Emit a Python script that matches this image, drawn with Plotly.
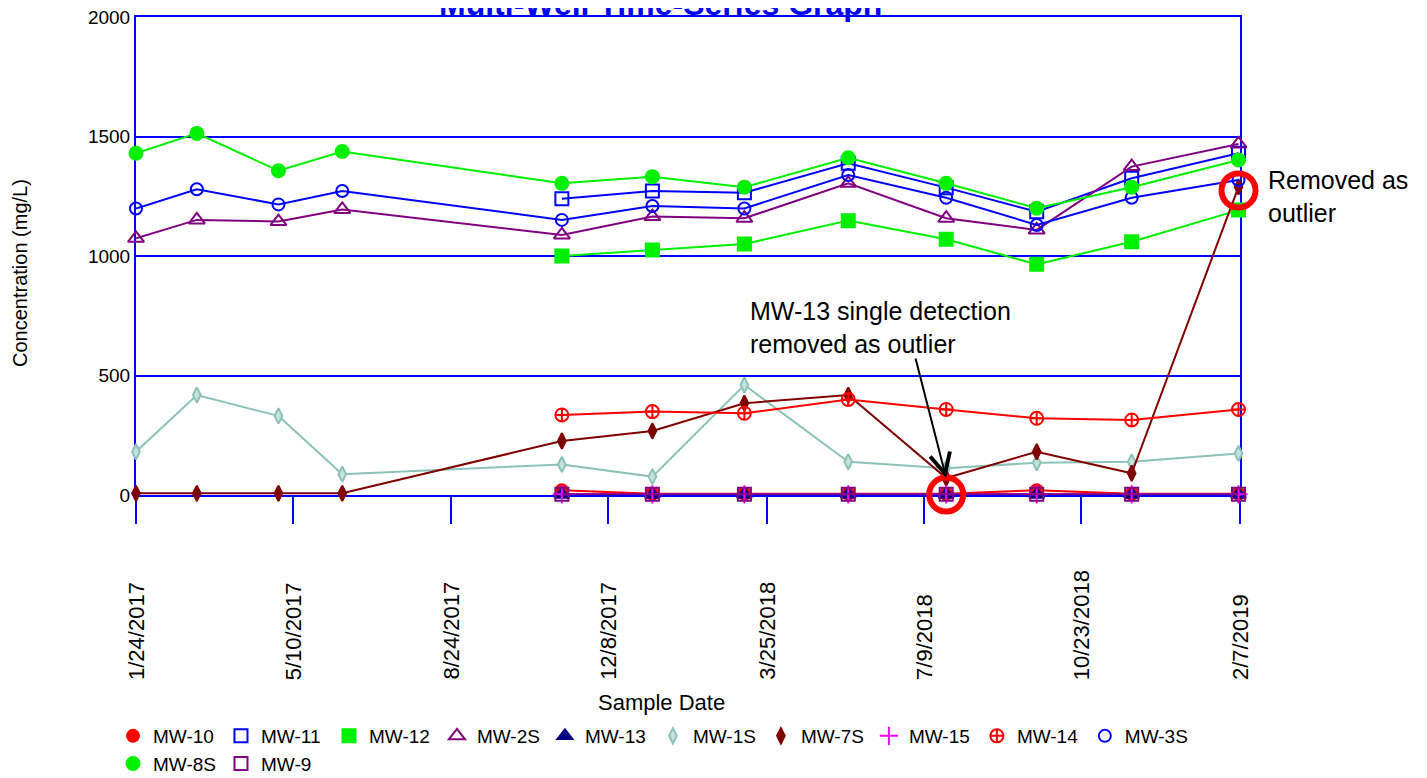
import plotly.graph_objects as go

# ---------------- data ----------------
dates = ['2017-01-24', '2017-03-06', '2017-04-30', '2017-06-12', '2017-11-07', '2018-01-07',
         '2018-03-10', '2018-05-19', '2018-07-24', '2018-09-23', '2018-11-26', '2019-02-06']

tick_dates = ['2017-01-24', '2017-05-10', '2017-08-24', '2017-12-08',
              '2018-03-25', '2018-07-09', '2018-10-23', '2019-02-07']
tick_labels = ['1/24/2017', '5/10/2017', '8/24/2017', '12/8/2017',
               '3/25/2018', '7/9/2018', '10/23/2018', '2/7/2019']

N = None
mw10 = [N, N, N, N, 20, 5, 5, 5, 5, 20, 5, 5]
mw11 = [N, N, N, N, 1240, 1272, 1265, 1388, 1286, 1185, 1325, 1430]
mw12 = [N, N, N, N, 1000, 1025, 1050, 1148, 1070, 965, 1060, 1192]
mw2s = [1074, 1151, 1144, 1195, 1088, 1165, 1158, 1304, 1158, 1109, 1374, 1469]
mw13 = [N, N, N, N, 2, 2, 2, 2, 2, 2, 2, 2]
mw1s = [181, 418, 331, 87, 128, 77, 460, 139, 112, 135, 139, 174]
mw7s = [7, 7, 7, 7, 226, 268, 384, 418, 71, 181, 91, 1289]
mw15 = [N, N, N, N, 3, 3, 3, 3, 3, 3, 3, 3]
mw14 = [N, N, N, N, 335, 349, 342, 400, 358, 321, 314, 358]
mw3s = [1199, 1279, 1216, 1272, 1151, 1209, 1199, 1339, 1244, 1130, 1244, 1318]
mw8s = [1430, 1513, 1357, 1437, 1304, 1332, 1288, 1411, 1304, 1200, 1288, 1402]
mw9 = [N, N, N, N, 3, 3, 3, 3, 3, 3, 3, 3]

y_ticks = [0, 500, 1000, 1500, 2000]

FONT = "Liberation Sans, Arial, sans-serif"
BLUE = '#0000FF'

# name, values, line color, marker symbol, marker fill, marker line color, size
series = [
    ('MW-10', mw10, '#FF0000', 'circle', '#FF0000', '#FF0000', 12),
    ('MW-11', mw11, '#0000FF', 'square-open', '#0000FF', '#0000FF', 13),
    ('MW-12', mw12, '#00F000', 'square', '#00F000', '#00F000', 13),
    ('MW-2S', mw2s, '#800080', 'triangle-up-open', '#800080', '#800080', 14),
    ('MW-13', mw13, '#000080', 'triangle-up', '#000080', '#000080', 13),
    ('MW-1S', mw1s, '#8CC2B8', 'diamond-tall', '#C6E2DC', '#8CC2B8', 11),
    ('MW-7S', mw7s, '#800000', 'diamond-tall', '#800000', '#800000', 11),
    ('MW-15', mw15, '#FF00FF', 'cross-thin-open', '#FF00FF', '#FF00FF', 13),
    ('MW-14', mw14, '#FF0000', 'circle-cross-open', '#FF0000', '#FF0000', 13),
    ('MW-3S', mw3s, '#0000FF', 'circle-open', '#0000FF', '#0000FF', 12),
    ('MW-8S', mw8s, '#00F000', 'circle', '#00F000', '#00F000', 13),
    ('MW-9', mw9, '#800080', 'square-open', '#800080', '#800080', 13),
]

fig = go.Figure()

for name, vals, lc, sym, fill, mlc, sz in series:
    fig.add_trace(go.Scatter(
        x=dates, y=vals, mode='lines+markers', name=name, showlegend=False,
        connectgaps=False, cliponaxis=False,
        line=dict(color=lc, width=2),
        marker=dict(symbol=sym, color=fill, size=sz, line=dict(color=mlc, width=2)),
    ))

# legend entries (marker only)
for name, vals, lc, sym, fill, mlc, sz in series:
    fig.add_trace(go.Scatter(
        x=[None], y=[None], mode='markers', name=name, showlegend=True,
        marker=dict(symbol=sym, color=fill, size=sz, line=dict(color=mlc, width=2)),
    ))

# outlier highlight circles
fig.add_trace(go.Scatter(
    x=[dates[8], dates[-1]], y=[mw13[8], mw7s[-1] - 15], mode='markers', showlegend=False,
    cliponaxis=False,
    marker=dict(symbol='circle-open', size=34, color='#FF0000', line=dict(color='#FF0000', width=6)),
))

# page body has an 8px margin; figure is sized/positioned to compensate
W, H = 1419, 770

def px_x(p):
    return (p - 136) / 1104.0

def px_y(p):
    return (495 - p) / 478.0

annotations = []
for d, lab in zip(tick_dates, tick_labels):
    annotations.append(dict(x=d, xref='x', y=px_y(682), yref='paper', text=lab,
                            textangle=-90, showarrow=False, xanchor='center', yanchor='bottom',
                            font=dict(family=FONT, size=22, color='black')))

annotations += [
    dict(x=px_x(660), y=px_y(24), xref='paper', yref='paper', yanchor='bottom', xanchor='center',
         text='<b>Multi-Well Time-Series Graph</b>', showarrow=False,
         font=dict(family=FONT, size=32, color=BLUE)),
    dict(x=px_x(661), y=px_y(702), xref='paper', yref='paper', xanchor='center', yanchor='middle',
         text='Sample Date', showarrow=False,
         font=dict(family=FONT, size=22, color='black')),
    dict(x=px_x(20), y=px_y(273), xref='paper', yref='paper', xanchor='center', yanchor='middle',
         text='Concentration (mg/L)',
         textangle=-90, showarrow=False, font=dict(family=FONT, size=20, color='black')),
    dict(x=px_x(748), y=px_y(327), xref='paper', yref='paper', xanchor='left', yanchor='middle',
         align='left', text='MW-13 single detection<br>removed as outlier', showarrow=False,
         font=dict(family=FONT, size=25, color='black')),
    dict(x=px_x(1266), y=px_y(196), xref='paper', yref='paper', xanchor='left', yanchor='middle',
         align='left', text='Removed as<br>outlier', showarrow=False,
         font=dict(family=FONT, size=25, color='black')),
    dict(x=dates[8], y=mw7s[8], xref='x', yref='y', text='', showarrow=True,
         arrowhead=5, arrowsize=2, arrowwidth=2, arrowcolor='black',
         ax=-31, ay=-121, standoff=0),
]

fig.update_layout(
    width=W, height=H,
    margin=dict(l=128, r=W - 128 - 1104, t=9, b=H - 9 - 478, pad=0, autoexpand=False),
    plot_bgcolor='white', paper_bgcolor='white',
    font=dict(family=FONT, size=19, color='black'),
    showlegend=True,
    legend=dict(orientation='h', xref='container', x=105 / W, xanchor='left',
                yref='container', y=(H - 709) / H, yanchor='top',
                font=dict(family=FONT, size=19, color='black'),
                bgcolor='rgba(0,0,0,0)', borderwidth=0),
    annotations=annotations,
    xaxis=dict(type='date', range=['2017-01-24', '2019-02-07'], tickvals=tick_dates,
               showticklabels=False, ticks='outside', ticklen=27, tickwidth=2, tickcolor=BLUE,
               showline=True, linecolor=BLUE, linewidth=2, mirror=True,
               showgrid=False, zeroline=False, layer='below traces'),
    yaxis=dict(range=[0, 2000], tickvals=y_ticks, ticks='', showgrid=True, gridcolor=BLUE,
               gridwidth=2, showline=True, linecolor=BLUE, linewidth=2, mirror=True,
               zeroline=False, tickfont=dict(family=FONT, size=19, color='black'),
               ticklabeloverflow='allow', layer='below traces'),
)

fig.write_html('out.html')
